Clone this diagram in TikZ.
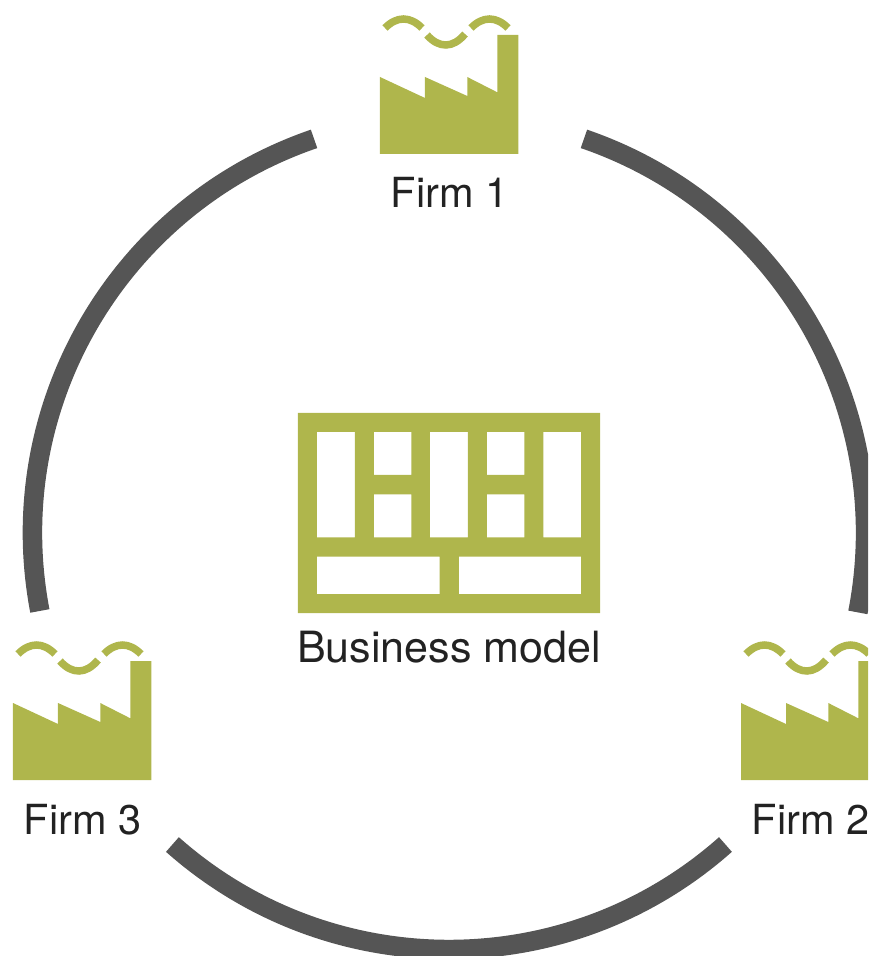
\documentclass[tikz,border=0pt]{standalone}
\usepackage{fontspec}
\setmainfont{TeX Gyre Heros}
\usepackage{tikz}
\usetikzlibrary{calc}
\definecolor{leaf}{HTML}{AFB64C}
\definecolor{ring}{HTML}{555555}
\definecolor{ink}{HTML}{222222}

\begin{document}
\begin{tikzpicture}[scale=0.02]
	\tikzstyle{la}=[inner sep=0pt, anchor=base, text=ink];
	\tikzstyle{loop}=[draw=ring, line width=0.39cm];
	\tikzstyle{wave}=[draw=leaf, line width=0.15cm];
	\useasboundingbox (-449,-421) rectangle (419,535);
	\clip (-449,-421) rectangle (419,535);
	\coordinate (hub) at (0,2);
	% ring pieces between the firms
	\foreach \i/\a/\b in {a/108.9/190.8, b/228.4/311.6, c/71.1/-11}
	{\coordinate (\i) at ($(hub)+(\a:416.5)$);
	\draw[loop] (\i) arc[start angle=\a, end angle=\b, radius=416.5];}
	% firms
	\foreach \i/\x/\y in {1/-69/381, 2/292/-245, 3/-436/-245}
	{\begin{scope}[shift={(\x,\y)}]
		\fill[leaf] (0,0) -- (0,77) -- (45,56) -- (45,77) -- (87.3,58) -- (87.3,77)
			-- (117.3,61.7) -- (117.3,119) -- (138.5,119) -- (138.5,0) -- cycle;
		\draw[wave] (5,126) .. controls (17,138) and (30,138) .. (42,126);
		\draw[wave] (47,119) .. controls (59,105.5) and (73,105.5) .. (85,120);
		\draw[wave] (91,126) .. controls (103,138) and (116,138) .. (128,126);
		\node[la, font=\fontsize{23.6}{28}\selectfont] (firm\i) at (69.5,-54) {Firm \i};
	\end{scope}}
	% business model grid
	\fill[leaf, even odd rule] (-151,122) rectangle (151,-78)
		\foreach \l/\t/\r/\s in {-132/103/-94/-2.3, -19/103/19/-2.3, 94.3/103/132/-2.3,
			-75/103/-37.7/60, -75/40.7/-37.7/-2.3, 38/103/75.3/60, 38/40.7/75.3/-2.3,
			-132/-21.7/-9.3/-59, 10/-21.7/132/-59}
		{(\l,\t) rectangle (\r,\s)};
	\node[la, font=\fontsize{24.5}{28}\selectfont] (model) at (0,-127) {Business model};
\end{tikzpicture}
\end{document}
